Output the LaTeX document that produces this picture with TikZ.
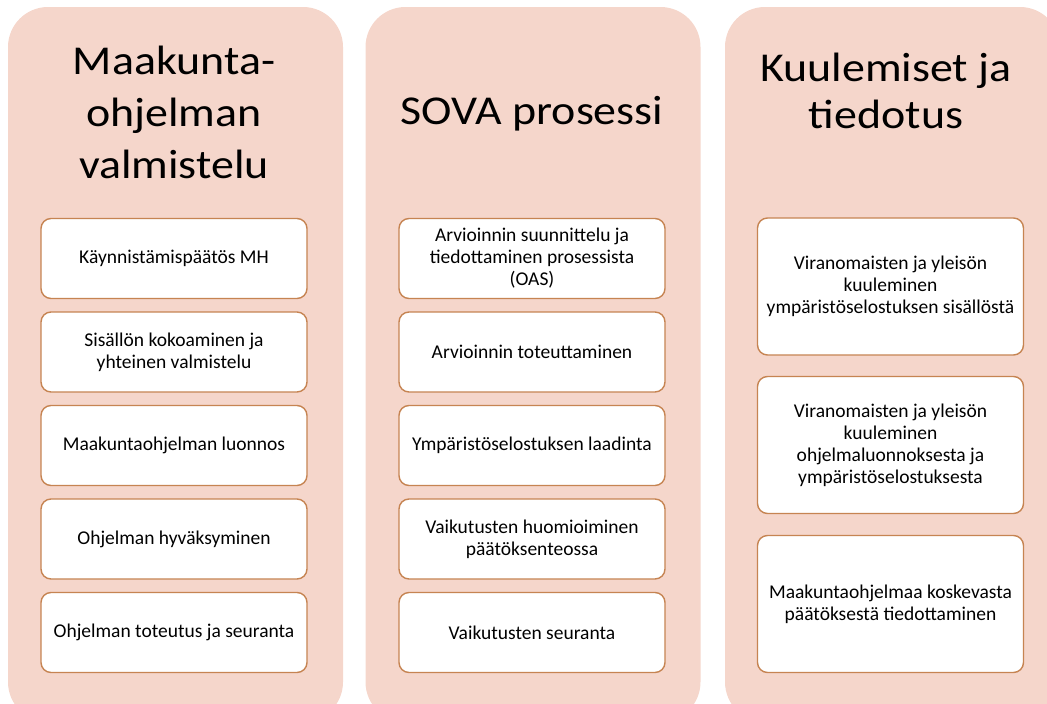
\documentclass[tikz,border=0pt]{standalone}
\usepackage{fontspec}
\setmainfont{Carlito}
\newfontfamily\titlefont[FakeStretch=1.12]{Carlito}
\usetikzlibrary{positioning}
\definecolor{pinkbg}{RGB}{245,214,203}
\definecolor{boxline}{RGB}{198,132,82}

\tikzset{
  colbox/.style={rectangle, fill=pinkbg, rounded corners=40pt, minimum width=335pt, minimum height=715pt, inner sep=0pt},
  titletext/.style={align=center, inner sep=0pt, font=\titlefont\fontsize{41}{52}\selectfont},
  taskbox/.style={rectangle, draw=boxline, line width=1.4pt, fill=white, rounded corners=10pt, minimum width=266pt, minimum height=80pt, align=center, inner sep=2pt, font=\fontsize{19.5}{22}\selectfont},
  tallbox/.style={taskbox, minimum height=137pt}
}

\begin{document}
\begin{tikzpicture}[x=1pt, y=-1pt]
			\useasboundingbox (0,0) rectangle (1047,704);
			\clip (0,0) rectangle (1047,704);
			% Columns
			\node[colbox] (col1) at (175.5,364.5) {};
			\node[colbox] (col2) at (533,364.5) {};
			\node[colbox] (col3) at (892.5,364.5) {};
			% Titles
			\node[titletext] (title1) at (174,112) {Maakunta-\\ohjelman\\valmistelu};
			\node[titletext] (title2) at (532,114) {SOVA prosessi};
			\node[titletext, font=\titlefont\fontsize{41}{47}\selectfont] (title3) at (886,91) {Kuulemiset ja\\tiedotus};
			% Maakuntaohjelman valmistelu
			\node[taskbox] (mv1) at (174,258.5) {Käynnistämispäätös MH};
			\node[taskbox] (mv2) at (174,352) {Sisällön kokoaminen ja\\yhteinen valmistelu};
			\node[taskbox] (mv3) at (174,445.5) {Maakuntaohjelman luonnos};
			\node[taskbox] (mv4) at (174,539) {Ohjelman hyväksyminen};
			\node[taskbox] (mv5) at (174,632.5) {Ohjelman toteutus ja seuranta};
			% SOVA prosessi
			\node[taskbox] (sova1) at (532,258.5) {Arvioinnin suunnittelu ja\\tiedottaminen prosessista\\(OAS)};
			\node[taskbox] (sova2) at (532,352) {Arvioinnin toteuttaminen};
			\node[taskbox] (sova3) at (532,445.5) {Ympäristöselostuksen laadinta};
			\node[taskbox] (sova4) at (532,539) {Vaikutusten huomioiminen\\päätöksenteossa};
			\node[taskbox] (sova5) at (532,632.5) {Vaikutusten seuranta};
			% Kuulemiset ja tiedotus
			\node[tallbox] (kuul1) at (890.5,286.5) {Viranomaisten ja yleisön\\kuuleminen\\ympäristöselostuksen sisällöstä};
			\node[tallbox] (kuul2) at (890.5,445) {Viranomaisten ja yleisön\\kuuleminen\\ohjelmaluonnoksesta ja\\ympäristöselostuksesta};
			\node[tallbox] (kuul3) at (890.5,604) {Maakuntaohjelmaa koskevasta\\päätöksestä tiedottaminen};
		\end{tikzpicture}
\end{document}
